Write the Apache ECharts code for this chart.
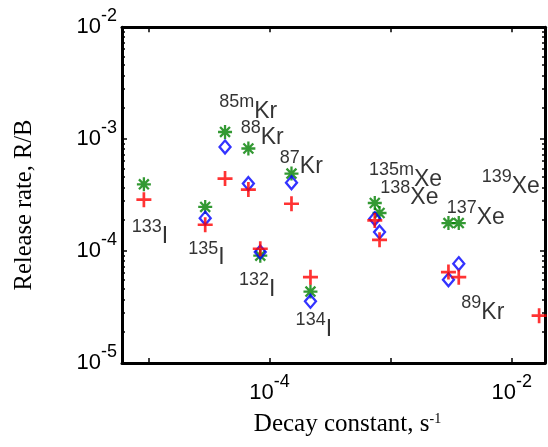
<!DOCTYPE html>
<html><head><meta charset="utf-8">
<script src="https://cdn.jsdelivr.net/npm/echarts@6/dist/echarts.min.js"></script>
<style>html,body{margin:0;padding:0;background:#fff}#c{width:548px;height:447px}</style>
</head><body><div id="c"></div>
<script>
// Nuclides (x = decay constant, s^-1)
const nuclides = ['133I','135I','85mKr','88Kr','132I','87Kr','134I','135mXe','138Xe','137Xe','89Kr','139Xe'];
const decayConstant = [9.2e-6, 2.95e-5, 4.3e-5, 6.7e-5, 8.4e-5, 1.52e-4, 2.18e-4, 7.4e-4, 8.1e-4, 3.0e-3, 3.65e-3, 1.68e-2];
// Release rate R/B for three data sets
const greenRate = [3.95e-4, 2.48e-4, 1.16e-3, 8.26e-4, 9.1e-5, 4.93e-4, 4.35e-5, 2.69e-4, 2.19e-4, 1.78e-4, 1.78e-4, null];
const blueRate  = [null, 1.97e-4, 8.53e-4, 4.01e-4, 9.8e-5, 4.09e-4, 3.56e-5, 1.95e-4, 1.48e-4, 5.55e-5, 7.71e-5, null];
const redRate   = [2.88e-4, 1.72e-4, 4.45e-4, 3.55e-4, 1.05e-4, 2.65e-4, 5.85e-5, 1.88e-4, 1.26e-4, 6.49e-5, 5.85e-5, 2.65e-5];
// Annotation labels (mass number superscript + element) and their anchors in data coordinates
const labelMass = ['133','135','85m','88','132','87','134','135m','138','137','89','139'];
const labelElement = ['I','I','Kr','Kr','I','Kr','I','Xe','Xe','Xe','Kr','Xe'];
const labelX = [7.38e-6, 2.16e-5, 3.88e-5, 5.85e-5, 5.66e-5, 1.23e-4, 1.66e-4, 6.68e-4, 8.30e-4, 2.93e-3, 3.87e-3, 5.69e-3];
const labelY = [1.86e-4, 1.205e-4, 2.445e-3, 1.43e-3, 6.28e-5, 7.82e-4, 2.75e-5, 6.06e-4, 4.21e-4, 2.79e-4, 3.95e-5, 5.28e-4];
// Axis ranges and tick labels
const xRange = [6.07e-6, 1.879e-2];
const yRange = [1e-5, 1e-2];
const xTickExp = [-4, -2];
const yTickExp = [-5, -4, -3, -2];
const xTitle = 'Decay constant, s';
const xTitleSup = '-1';
const yTitle = 'Release rate, R/B';

function pairs(vals) {
  return decayConstant.map((x, i) => vals[i] == null ? null : [x, vals[i]]).filter(d => d);
}
function tickFmt(allowed) {
  return v => {
    const e = Math.log10(v), r = Math.round(e);
    if (Math.abs(e - r) > 1e-6 || allowed.indexOf(r) < 0) return '';
    return '{b|10}{s|' + r + '}';
  };
}
const SANS = 'Liberation Sans', SERIF = 'Liberation Serif';
const tickRich = {
  b: {fontFamily: SANS, fontSize: 22, lineHeight: 31, verticalAlign: 'bottom', color: '#000'},
  s: {fontFamily: SANS, fontSize: 18, lineHeight: 18, verticalAlign: 'top', color: '#000'}
};
const lineStyle = {color: '#000', width: 3};
function axisCommon(extra) {
  return Object.assign({
    type: 'log', logBase: 10,
    axisLine: {show: true, lineStyle: lineStyle},
    axisTick: {show: true, inside: true, length: 5, lineStyle: {color: '#000', width: 1.5}},
    splitLine: {show: false},
    minorSplitLine: {show: false}
  }, extra);
}

const chart = echarts.init(document.getElementById('c'), null, {renderer: 'canvas'});
chart.setOption({
  animation: false,
  backgroundColor: '#fff',
  grid: {left: 122, right: 2, top: 27.3, bottom: 84, containLabel: false},
  xAxis: [
    axisCommon({
      position: 'bottom', min: xRange[0], max: xRange[1],
      axisLabel: {show: true, margin: 10, formatter: tickFmt(xTickExp), rich: tickRich},
      name: '{b|' + xTitle + '}{s|' + xTitleSup + '}', nameLocation: 'middle', nameGap: 49,
      nameTextStyle: {padding: [0, 0, 0, 28], rich: {
        b: {fontFamily: SERIF, fontSize: 25, lineHeight: 25, verticalAlign: 'bottom', color: '#000'},
        s: {fontFamily: SERIF, fontSize: 14, lineHeight: 14, verticalAlign: 'top', color: '#000'}
      }}
    }),
    axisCommon({
      position: 'top', min: xRange[0], max: xRange[1],
      axisLabel: {show: false}
    })
  ],
  yAxis: [
    axisCommon({
      position: 'left', min: yRange[0], max: yRange[1],
      minorTick: {show: true, splitNumber: 10, length: 3, lineStyle: {color: '#000', width: 1.5}},
      axisLabel: {show: true, margin: 5, padding: [0, 0, 9, 0], formatter: tickFmt(yTickExp), rich: tickRich}
    }),
    axisCommon({
      position: 'right', min: yRange[0], max: yRange[1],
      minorTick: {show: true, splitNumber: 10, length: 3, lineStyle: {color: '#000', width: 1.5}},
      axisLabel: {show: false}
    })
  ],
  graphic: [{
    type: 'text', x: 25, y: 205, rotation: Math.PI / 2, silent: true,
    style: {text: yTitle, fontFamily: SERIF, fontSize: 24.5, fill: '#000', align: 'center', verticalAlign: 'middle'}
  }],
  series: [
    {
      type: 'scatter', name: 'green', data: pairs(greenRate), z: 2,
      symbol: 'path://M0,-10L0,10M-10,0L10,0M-7.07,-7.07L7.07,7.07M-7.07,7.07L7.07,-7.07',
      symbolSize: 14,
      itemStyle: {color: '#008000', borderColor: '#008000', borderWidth: 2.3}
    },
    {
      type: 'scatter', name: 'blue', data: pairs(blueRate), z: 3,
      symbol: 'diamond', symbolSize: [11, 13],
      itemStyle: {color: 'rgba(0,0,0,0)', borderColor: '#0000ff', borderWidth: 2.3}
    },
    {
      type: 'scatter', name: 'red', data: pairs(redRate), z: 4,
      symbol: 'path://M0,-1L0,1M-1,0L1,0', symbolSize: 15,
      itemStyle: {color: '#ff0000', borderColor: '#ff0000', borderWidth: 2.7}
    },
    {
      type: 'scatter', name: 'labels', z: 5, silent: true, clip: false,
      data: labelX.map((x, i) => [x, labelY[i], i]),
      symbolSize: 1, itemStyle: {color: 'rgba(0,0,0,0)'},
      label: {
        show: true, position: [0, 0], align: 'left', verticalAlign: 'top', offset: [0, -2],
        formatter: p => '{s|' + labelMass[p.value[2]] + '}{b|' + labelElement[p.value[2]] + '}',
        rich: {
          s: {fontFamily: SANS, fontSize: 18, lineHeight: 18, verticalAlign: 'top', color: '#000'},
          b: {fontFamily: SANS, fontSize: 23, lineHeight: 30, verticalAlign: 'bottom', color: '#000'}
        }
      },
      emphasis: {disabled: true}
    }
  ]
});
</script>
</body></html>
